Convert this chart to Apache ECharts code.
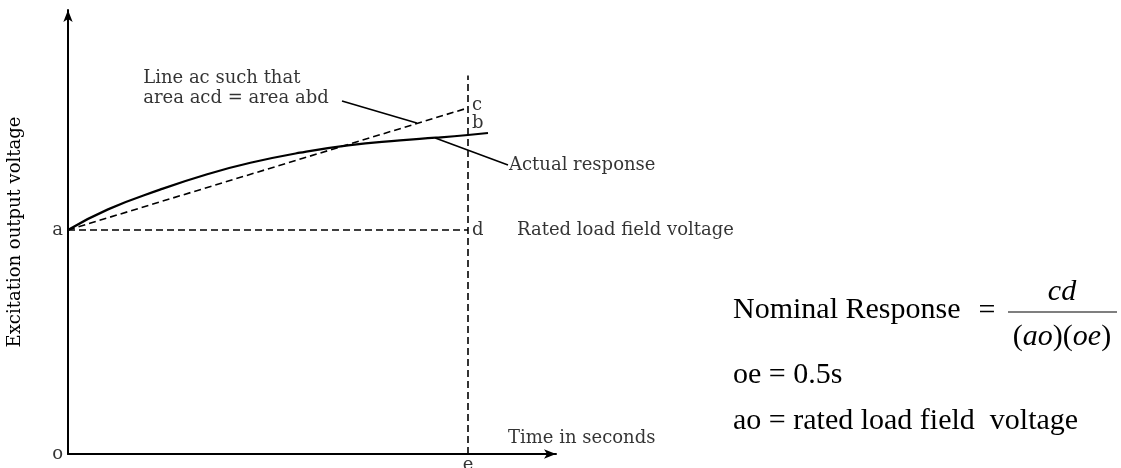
<!DOCTYPE html>
<html>
<head>
<meta charset="utf-8">
<script src="https://cdn.jsdelivr.net/npm/echarts@6/dist/echarts.min.js"></script>
<style>
  html, body { margin: 0; padding: 0; background: #fff; }
  #chart { width: 1121px; height: 468px; }
</style>
</head>
<body>
<div id="chart"></div>
<script>
// time in seconds (e = 0.5 s), voltage in units of rated load field voltage (ao = 1)
const timeS = [0, 0.05, 0.115, 0.175, 0.228, 0.29, 0.35, 0.415, 0.46, 0.5, 0.525];
const response = [1.0, 1.092, 1.18, 1.25, 1.30, 1.345, 1.378, 1.40, 1.412, 1.424, 1.433];
const eTime = 0.5;
const aLevel = 1.0;
const cLevel = 1.545;
const bLevel = 1.424;
const guideTop = 1.69;
const leaderAc = [[0.3425, 1.576], [0.436, 1.478]];
const leaderActual = [[0.459, 1.411], [0.55, 1.29]];

const serif = "'DejaVu Serif', serif";
const times = "'Liberation Serif', 'Times New Roman', serif";

const myChart = echarts.init(document.getElementById('chart'));

// text that sits on the chart, placed by data coordinates
const notes = [
  { value: [0, aLevel], text: 'a', pos: 'left', dist: 5 },
  { value: [0, 0], text: 'o', pos: 'left', dist: 5 },
  { value: [eTime, 0], text: 'e', pos: 'bottom', dist: 1 },
  { value: [eTime, cLevel + 0.01], text: 'c', pos: 'right', dist: 4 },
  { value: [eTime, bLevel + 0.05], text: 'b', pos: 'right', dist: 4 },
  { value: [eTime, aLevel], text: 'd', pos: 'right', dist: 4 },
  { value: [0.5612, aLevel], text: 'Rated load field voltage', pos: 'right', dist: 0 },
  { value: leaderActual[1], text: 'Actual response', pos: 'right', dist: 1 },
  { value: [0.094, 1.634], text: 'Line ac such that\narea acd = area abd', pos: 'right', dist: 0 },
  { value: [0.55, 0.071], text: 'Time in seconds', pos: 'right', dist: 0 }
];

const dashed = { color: '#000', width: 1.6, type: [7, 4] };

const option = {
  backgroundColor: '#fff',
  animation: false,
  grid: { left: 68, top: 10, width: 488, height: 444 },
  xAxis: {
    type: 'value', min: 0, max: 0.61,
    axisLine: { onZero: false, lineStyle: { color: '#000', width: 2 }, symbol: ['none', 'arrow'], symbolSize: [7, 12] },
    axisTick: { show: false }, axisLabel: { show: false }, splitLine: { show: false }
  },
  yAxis: {
    type: 'value', min: 0, max: 1.982,
    name: 'Excitation output voltage',
    nameLocation: 'middle', nameGap: 44,
    nameTextStyle: { color: '#000', fontFamily: serif, fontSize: 18 },
    axisLine: { onZero: false, lineStyle: { color: '#000', width: 2 }, symbol: ['none', 'arrow'], symbolSize: [7, 12] },
    axisTick: { show: false }, axisLabel: { show: false }, splitLine: { show: false }
  },
  series: [
    {
      name: 'Actual response', type: 'line', smooth: true, showSymbol: false,
      data: timeS.map((t, i) => [t, response[i]]),
      lineStyle: { color: '#000', width: 2.2 }
    },
    {
      name: 'ac', type: 'line', showSymbol: false,
      data: [[0, aLevel], [eTime, cLevel]], lineStyle: dashed
    },
    {
      name: 'ad', type: 'line', showSymbol: false,
      data: [[0, aLevel], [eTime, aLevel]], lineStyle: dashed
    },
    {
      name: 'e', type: 'line', showSymbol: false,
      data: [[eTime, 0], [eTime, guideTop]], lineStyle: dashed
    },
    {
      name: 'leader1', type: 'line', showSymbol: false,
      data: leaderAc, lineStyle: { color: '#000', width: 1.6 }
    },
    {
      name: 'leader2', type: 'line', showSymbol: false,
      data: leaderActual, lineStyle: { color: '#000', width: 1.6 }
    },
    {
      name: 'notes', type: 'scatter', symbolSize: 0, silent: true,
      data: notes.map(n => ({
        value: n.value,
        label: {
          show: true, position: n.pos, distance: n.dist, formatter: n.text,
          color: '#000', fontFamily: serif, fontSize: 18, lineHeight: 20, align: n.pos === 'right' ? 'left' : undefined
        }
      }))
    }
  ],
  graphic: [
    { type: 'text', style: { text: 'Nominal Response', x: 733, y: 310, font: '30px ' + times, fill: '#000', textVerticalAlign: 'middle' } },
    { type: 'text', style: { text: '=', x: 987, y: 311, font: '30px ' + times, fill: '#000', textAlign: 'center', textVerticalAlign: 'middle' } },
    { type: 'text', style: { text: 'cd', x: 1062, y: 292, font: 'italic 30px ' + times, fill: '#000', textAlign: 'center', textVerticalAlign: 'middle' } },
    { type: 'line', shape: { x1: 1008, y1: 312, x2: 1117, y2: 312 }, style: { stroke: '#000', lineWidth: 1.2 } },
    {
      type: 'text',
      style: {
        text: '{p|(}{i|ao}{p|)(}{i|oe}{p|)}', x: 1062, y: 337, textAlign: 'center', textVerticalAlign: 'middle',
        rich: {
          p: { fontFamily: times, fontSize: 30, fill: '#000' },
          i: { fontFamily: times, fontSize: 30, fontStyle: 'italic', fill: '#000' }
        }
      }
    },
    { type: 'text', style: { text: 'oe = 0.5s', x: 733, y: 375, font: '30px ' + times, fill: '#000', textVerticalAlign: 'middle' } },
    { type: 'text', style: { text: 'ao = rated load field  voltage', x: 733, y: 421, font: '30px ' + times, fill: '#000', textVerticalAlign: 'middle' } }
  ]
};

myChart.setOption(option);
</script>
</body>
</html>
